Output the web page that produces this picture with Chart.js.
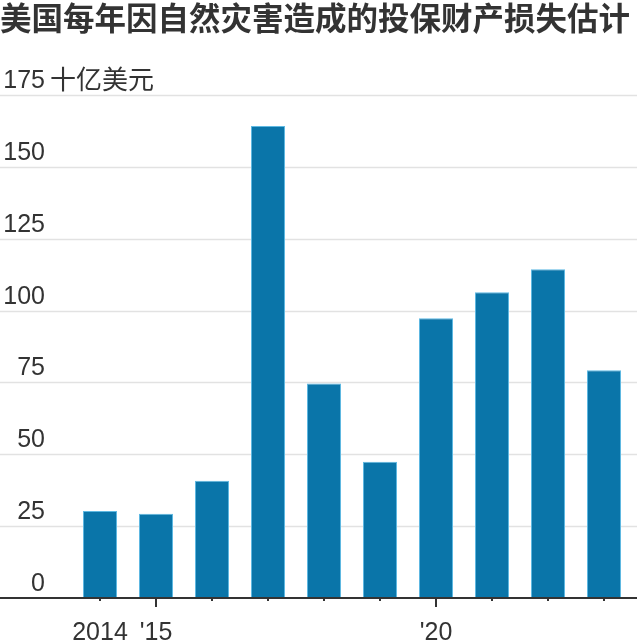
<!DOCTYPE html>
<html>
<head>
<meta charset="utf-8">
<script src="https://cdn.jsdelivr.net/npm/chart.js@4.4.1/dist/chart.umd.min.js"></script>
<style>
  html, body { margin: 0; padding: 0; background: #fff; }
  #wrap { position: relative; width: 637px; height: 643px; }
</style>
</head>
<body>
<div id="wrap"><canvas id="loss-chart"></canvas></div>
<script>
// ==================== DATA ====================
const years = ['2014', '2015', '2016', '2017', '2018', '2019', '2020', '2021', '2022', '2023'];
const losses = [30.3, 29.3, 40.8, 164.2, 74.6, 47.4, 97.3, 106.4, 114.4, 79.2];
const yTicks = [0, 25, 50, 75, 100, 125, 150, 175];
const xLabels = ['2014', "'15", '', '', '', '', "'20", '', '', ''];
const majorTicks = ['2015', '2020'];

const titleText = '美国每年因自然灾害造成的投保财产损失估计';
const unitText = '十亿美元';

const TEXT = '#333333';
const BAR = '#0a75a9';
const GRID = '#e2e2e2';
const LABEL_FONT = '25px "Liberation Sans", Arial, sans-serif';
const CJK_FONT = '26px "Noto Sans CJK SC", sans-serif';

// ==================== PLUGIN ====================
// grid, y labels and title drawn full width, like the original
const wsjAxes = {
  id: 'wsjAxes',
  beforeDatasetsDraw(chart) {
    const ctx = chart.ctx;
    const y = chart.scales.y;
    const w = chart.width;
    ctx.save();

    // title
    ctx.fillStyle = TEXT;
    ctx.font = 'bold 31.5px "Noto Sans CJK SC", sans-serif';
    ctx.textBaseline = 'top';
    ctx.textAlign = 'left';
    ctx.fillText(titleText, 0, 2);

    // gridlines
    ctx.strokeStyle = GRID;
    ctx.lineWidth = 1.5;
    yTicks.forEach(v => {
      if (v === 0) return;
      const py = Math.round(y.getPixelForValue(v)) + 0.5;
      ctx.beginPath();
      ctx.moveTo(0, py);
      ctx.lineTo(w, py);
      ctx.stroke();
    });

    // y labels sit above the lines, right aligned
    ctx.textBaseline = 'alphabetic';
    ctx.textAlign = 'right';
    yTicks.forEach(v => {
      const py = y.getPixelForValue(v) - 7;
      ctx.font = LABEL_FONT;
      ctx.fillText(String(v), 45, py);
      if (v === 175) {
        ctx.textAlign = 'left';
        ctx.font = CJK_FONT;
        ctx.fillText(unitText, 50, py + 1);
        ctx.textAlign = 'right';
      }
    });
    ctx.restore();
  },
  afterDatasetsDraw(chart) {
    const ctx = chart.ctx;
    const x = chart.scales.x;
    const base = Math.round(chart.scales.y.getPixelForValue(0));
    ctx.save();

    // baseline
    ctx.strokeStyle = TEXT;
    ctx.lineWidth = 2;
    ctx.beginPath();
    ctx.moveTo(0, base);
    ctx.lineTo(chart.width, base);
    ctx.stroke();

    // tick marks, longer at 2015 and 2020
    years.forEach((yr, i) => {
      const px = Math.round(x.getPixelForValue(i));
      const len = majorTicks.includes(yr) ? 9 : 3;
      ctx.beginPath();
      ctx.moveTo(px, base);
      ctx.lineTo(px, base + len);
      ctx.stroke();
    });

    // x labels
    ctx.fillStyle = TEXT;
    ctx.font = LABEL_FONT;
    ctx.textAlign = 'center';
    ctx.textBaseline = 'alphabetic';
    xLabels.forEach((lab, i) => {
      if (!lab) return;
      ctx.fillText(lab, x.getPixelForValue(i), 640);
    });
    ctx.restore();
  }
};

// ==================== CHART ====================
function renderChart() {
  const ctx = document.getElementById('loss-chart').getContext('2d');
  new Chart(ctx, {
    type: 'bar',
    data: {
      labels: years,
      datasets: [{
        data: losses,
        backgroundColor: BAR,
        borderColor: '#5fb9e2',
        borderWidth: 1,
        borderSkipped: 'bottom',
        barPercentage: 0.9,
        categoryPercentage: 0.675
      }]
    },
    options: {
      responsive: true,
      maintainAspectRatio: false,
      animation: false,
      layout: { padding: { left: 72, right: 5, top: 95, bottom: 45 } },
      scales: {
        x: { display: false },
        y: { display: false, min: 0, max: 175 }
      },
      plugins: {
        legend: { display: false },
        tooltip: { enabled: false }
      }
    },
    plugins: [wsjAxes]
  });
}

renderChart();
</script>
</body>
</html>
